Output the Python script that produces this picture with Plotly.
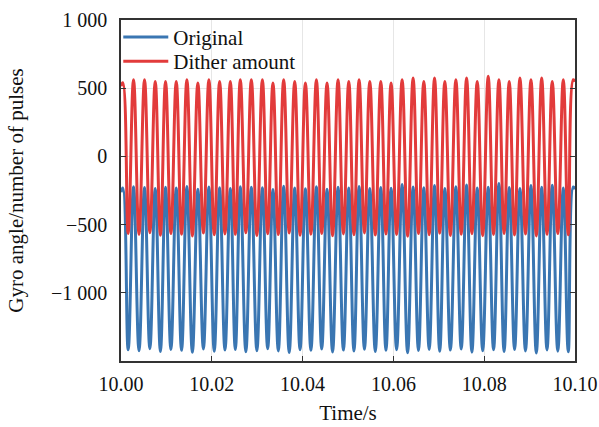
import plotly.graph_objects as go

# Times (s) of the dither crests and troughs, and the level of each curve there
crest_t = [10.00040, 10.00276, 10.00518, 10.00754, 10.00981, 10.01217, 10.01451, 10.01693,
           10.01936, 10.02172, 10.02408, 10.02628, 10.02871, 10.03114, 10.03347, 10.03583,
           10.03826, 10.04062, 10.04304, 10.04538, 10.04781, 10.05017, 10.05244, 10.05480,
           10.05722, 10.05949, 10.06192, 10.06434, 10.06670, 10.06906, 10.07133, 10.07376,
           10.07612, 10.07846, 10.08088, 10.08324, 10.08551, 10.08787, 10.09030, 10.09266,
           10.09499, 10.09742, 10.09962]
trough_t = [10.00158, 10.00397, 10.00636, 10.00868, 10.01099, 10.01334, 10.01572, 10.01815,
            10.02054, 10.02290, 10.02518, 10.02750, 10.02993, 10.03231, 10.03465, 10.03705,
            10.03944, 10.04183, 10.04421, 10.04660, 10.04899, 10.05131, 10.05362, 10.05601,
            10.05836, 10.06071, 10.06313, 10.06552, 10.06788, 10.07020, 10.07255, 10.07494,
            10.07729, 10.07967, 10.08206, 10.08438, 10.08669, 10.08909, 10.09148, 10.09383,
            10.09621, 10.09852]

dither_crest = [540, 562, 562, 550, 550, 550, 562, 538, 562, 550, 550, 562, 562, 562, 538,
                562, 550, 538, 562, 538, 562, 550, 562, 550, 550, 538, 562, 574, 550,
                574, 550, 562, 574, 550, 587, 562, 550, 574, 562, 574, 550, 562, 562]
dither_trough = [-565, -572, -560, -578, -566, -570, -583, -562, -575, -568, -571, -560,
                 -580, -567, -573, -562, -578, -570, -565, -582, -568, -574, -561, -577,
                 -569, -572, -585, -566, -574, -563, -579, -570, -567, -581, -572, -565,
                 -576, -569, -583, -571, -566, -575]

orig_crest = [-232, -222, -228, -236, -226, -232, -220, -240, -224, -230, -236, -222, -226,
              -230, -242, -218, -232, -238, -222, -240, -226, -232, -220, -236, -228, -234,
              -206, -224, -230, -214, -236, -222, -210, -232, -226, -198, -228, -236, -214,
              -226, -212, -232, -224]
orig_trough = [-1418, -1425, -1410, -1430, -1415, -1422, -1436, -1412, -1428, -1420, -1416,
               -1432, -1424, -1410, -1426, -1438, -1418, -1422, -1412, -1434, -1420, -1427,
               -1414, -1430, -1421, -1417, -1440, -1423, -1415, -1429, -1420, -1412, -1435,
               -1424, -1418, -1431, -1416, -1426, -1442, -1419, -1428, -1433]

# Window edges
t_start, t_end = 10.0000, 10.1000
dither_start, dither_end = 515, 548
orig_start, orig_end = -262, -240

x_ticks = [10.00, 10.02, 10.04, 10.06, 10.08, 10.10]
x_tick_text = ["10.00", "10.02", "10.04", "10.06", "10.08", "10.10"]
y_ticks = [-1000, -500, 0, 500, 1000]
y_tick_text = ["\u22121 000", "\u2212500", "0", "500", "1 000"]


def merge(crest_vals, trough_vals, v0, v1):
    pts = [(t_start, v0)]
    pts += list(zip(crest_t, crest_vals))
    pts += list(zip(trough_t, trough_vals))
    pts.append((t_end, v1))
    pts.sort()
    return [p[0] for p in pts], [p[1] for p in pts]


t_orig, y_orig = merge(orig_crest, orig_trough, orig_start, orig_end)
t_dith, y_dith = merge(dither_crest, dither_trough, dither_start, dither_end)

BLUE = "#3a76b2"
RED = "#e23b3b"
FONT = "Liberation Serif"
INK = "#111111"

fig = go.Figure()
fig.add_trace(go.Scatter(x=t_orig, y=y_orig, mode="lines", name="Original", legend="legend",
                         line=dict(color=BLUE, width=3, shape="spline", smoothing=1.2)))
fig.add_trace(go.Scatter(x=t_dith, y=y_dith, mode="lines", name="Dither amount", legend="legend2",
                         line=dict(color=RED, width=3, shape="spline", smoothing=1.2)))

axis_common = dict(showline=True, linecolor="#333333", linewidth=1.5, automargin=False,
                   ticks="inside", ticklen=5, tickcolor="#333333", tickwidth=1,
                   showgrid=True, gridcolor="#e6e6e6", gridwidth=1, zeroline=False,
                   tickfont=dict(family=FONT, size=20, color=INK))

fig.update_xaxes(range=[10.0, 10.1], tickvals=x_ticks, ticktext=x_tick_text,
                 mirror=True, ticklabelstandoff=4,
                 title=dict(text="Time/s", font=dict(family=FONT, size=21, color=INK), standoff=12),
                 **axis_common)
fig.update_yaxes(range=[-1500, 1000], tickvals=y_ticks, ticktext=y_tick_text,
                 mirror="ticks", ticklabelstandoff=8,
                 title=dict(text="Gyro angle/number of pulses",
                            font=dict(family=FONT, size=21, color=INK), standoff=22),
                 **axis_common)

legend_common = dict(x=-0.006, xanchor="left", yanchor="middle",
                     bgcolor="rgba(255,255,255,0)", borderwidth=0,
                     font=dict(family=FONT, size=21, color=INK), itemwidth=45)

fig.update_layout(
    width=599, height=427,
    margin=dict(l=121, r=24, t=20, b=66),
    paper_bgcolor="white", plot_bgcolor="white",
    showlegend=True,
    legend=dict(y=0.949, **legend_common),
    legend2=dict(y=0.878, **legend_common),
)

fig.write_html("out.html")
